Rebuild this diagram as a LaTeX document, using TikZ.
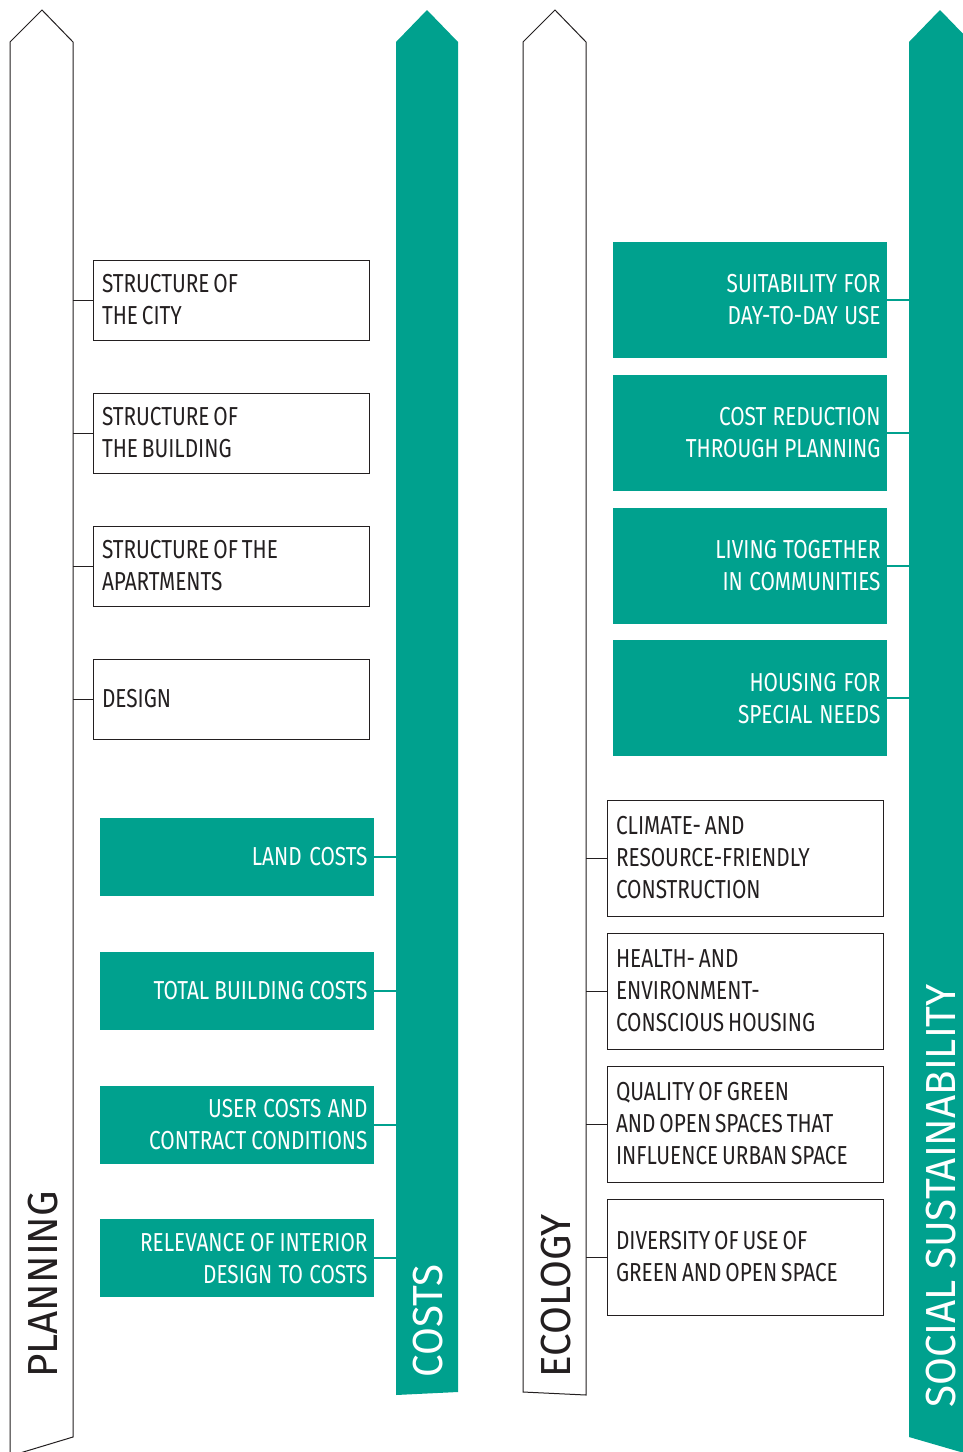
\documentclass[tikz,border=0pt]{standalone}
\usepackage{fontspec}
\setmainfont[FakeStretch=0.8]{Fira Sans}
\newfontfamily\pilhead[FakeStretch=0.96]{Fira Sans}
\usepackage{xcolor}
\usetikzlibrary{positioning}
\definecolor{pilteal}{RGB}{0,161,142}
\definecolor{pilink}{RGB}{35,31,32}
\tikzset{
  pil/col/.style={draw=pilink, line width=0.5pt, fill=white, line join=miter},
  pil/tcol/.style={fill=pilteal},
  pil/text/.style={
    font=\fontsize{13}{16}\selectfont,
    execute at begin node={\spaceskip=0.15em plus 0.05em\relax}
  },
  pil/box/.style={
    pil/text,
    draw=pilink,
    line width=0.5pt,
    text=pilink,
    text width=129pt,
    minimum height=40pt,
    align=left,
    inner xsep=4.5pt,
    inner ysep=2pt
  },
  pil/tbox/.style={
    pil/text,
    fill=pilteal,
    text=white,
    text width=131pt,
    minimum height=39pt,
    align=right,
    inner xsep=3pt,
    inner ysep=2pt
  },
  pil/title/.style={rotate=90, anchor=base west, inner sep=0pt,
    font=\pilhead\fontsize{21}{24}\selectfont},
  pil/link/.style={draw=pilink, line width=0.5pt},
  pil/tlink/.style={draw=pilteal, line width=1pt}
}
\begin{document}
\begin{tikzpicture}[x=0.5pt, y=-0.5pt]
\useasboundingbox (0,0) rectangle (963,1452);

% --- the four columns
\draw[pil/col] (10,1456) -- (10,42) -- (42,10) -- (73,42) -- (73,1437) -- cycle;
\fill[pil/tcol] (396,1395) -- (396,42) -- (427,10) -- (458,42) -- (458,1392) -- cycle;
\draw[pil/col] (523,1392) -- (523,42) -- (555,10) -- (586,42) -- (586,1395) -- cycle;
\fill[pil/tcol] (909,1437) -- (909,42) -- (940,10) -- (971,42) -- (971,1455) -- cycle;

\coordinate (planR) at (73,0);
\coordinate (costL) at (396,0);
\coordinate (ecoR) at (586,0);
\coordinate (socL) at (909,0);

\node[pil/title, text=pilink] (planT) at (57,1378) {PLANNING};
\node[pil/title, text=white] (costT) at (442,1378) {COSTS};
\node[pil/title, text=pilink] (ecoT) at (570,1378) {ECOLOGY};
\node[pil/title, text=white] (socT) at (955,1408) {SOCIAL SUSTAINABILITY};

% --- planning
\node[pil/box] (city) at (231,300) {STRUCTURE OF\\THE CITY};
\node[pil/box, below=26pt of city] (bldg) {STRUCTURE OF\\THE BUILDING};
\node[pil/box, below=26pt of bldg] (apt) {STRUCTURE OF THE\\APARTMENTS};
\node[pil/box, below=26pt of apt] (dsgn) {DESIGN};

% --- costs
\node[pil/tbox] (land) at (236.5,857) {LAND COSTS};
\node[pil/tbox, below=27.5pt of land] (total) {TOTAL BUILDING COSTS};
\node[pil/tbox, below=27.5pt of total] (user) {USER COSTS AND\\CONTRACT CONDITIONS};
\node[pil/tbox, below=27.5pt of user] (intr) {RELEVANCE OF INTERIOR\\DESIGN TO COSTS};

% --- social sustainability
\node[pil/tbox, minimum height=58pt] (daily) at (749.5,300) {SUITABILITY FOR\\DAY-TO-DAY USE};
\node[pil/tbox, minimum height=58pt, below=8pt of daily] (red) {COST REDUCTION\\THROUGH PLANNING};
\node[pil/tbox, minimum height=58pt, below=8pt of red] (comm) {LIVING TOGETHER\\IN COMMUNITIES};
\node[pil/tbox, minimum height=58pt, below=8pt of comm] (spec) {HOUSING FOR\\SPECIAL NEEDS};

% --- ecology
\node[pil/box, minimum height=58pt] (clim) at (745,858) {CLIMATE- AND\\RESOURCE-FRIENDLY\\CONSTRUCTION};
\node[pil/box, minimum height=58pt, below=8pt of clim] (hlth) {HEALTH- AND\\ENVIRONMENT-\\CONSCIOUS HOUSING};
\node[pil/box, minimum height=58pt, below=8pt of hlth] (green) {QUALITY OF GREEN\\AND OPEN SPACES THAT\\INFLUENCE URBAN SPACE};
\node[pil/box, minimum height=58pt, below=8pt of green] (div) {DIVERSITY OF USE OF\\GREEN AND OPEN SPACE};

% --- links
\foreach \n in {city,bldg,apt,dsgn}
  \draw[pil/link] (\n.west) -- (\n.west -| planR);
\foreach \n in {land,total,user,intr}
  \draw[pil/tlink] (\n.east) -- (\n.east -| costL);
\foreach \n in {daily,red,comm,spec}
  \draw[pil/tlink] (\n.east) -- (\n.east -| socL);
\foreach \n in {clim,hlth,green,div}
  \draw[pil/link] (\n.west) -- (\n.west -| ecoR);

\end{tikzpicture}
\end{document}
